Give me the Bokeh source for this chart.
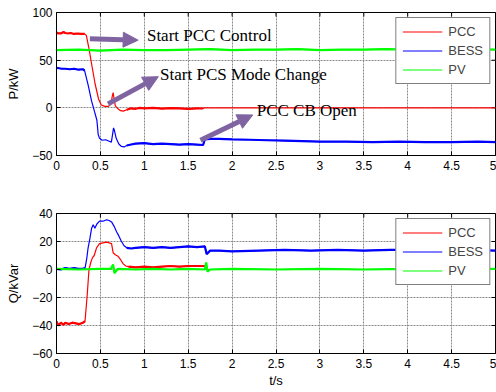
import numpy as np
from bokeh.plotting import figure
from bokeh.layouts import column
from bokeh.models import (Range1d, FixedTicker, NumeralTickFormatter, Legend, LegendItem,
                          Arrow, NormalHead, Label)
from bokeh.embed import file_html
from bokeh.resources import INLINE

# ---------------- data ----------------
x_ticks = [0, 0.5, 1, 1.5, 2, 2.5, 3, 3.5, 4, 4.5, 5]
p_ticks = [-50, 0, 50, 100]
q_ticks = [-60, -40, -20, 0, 20, 40]
series_names = ["PCC", "BESS", "PV"]

# Active power P (kW)
t_p_pcc = [0, 0.02, 0.05, 0.08, 0.1, 0.13, 0.16, 0.2, 0.24, 0.28, 0.32, 0.34, 0.37, 0.40,
           0.44, 0.48, 0.51, 0.55, 0.59, 0.62, 0.635, 0.645, 0.655, 0.67, 0.7, 0.73, 0.76,
           0.8, 0.85, 0.9, 0.95, 1.0, 1.1, 1.2, 1.3, 1.4, 1.5, 1.6, 1.67, 1.68, 2.5, 3.5, 5.0]
p_pcc = [79, 78, 78, 79.5, 78.5, 78, 78.5, 77.5, 78, 77.5, 77.5, 76, 62, 46,
         25, 9, 3, 1.5, 1.5, 4, 12, 16, 10, 2, -1, -3, -3.5,
         -2, -0.5, -1, 0, -0.5, 0, -0.8, -0.3, -0.5, -1, -0.5, -0.7, 0, 0, 0, 0]

t_p_bess = [0, 0.03, 0.06, 0.1, 0.15, 0.2, 0.25, 0.3, 0.32, 0.36, 0.40, 0.43, 0.46, 0.475,
            0.49, 0.52, 0.56, 0.6, 0.625, 0.64, 0.65, 0.66, 0.68, 0.71, 0.74, 0.77, 0.8,
            0.85, 0.9, 1.0, 1.1, 1.2, 1.3, 1.4, 1.5, 1.6, 1.67, 1.69, 1.75, 1.85, 2.0,
            2.2, 2.4, 2.6, 2.8, 3.0, 3.3, 3.6, 3.9, 4.2, 4.5, 4.8, 5.0]
p_bess = [42, 41.5, 41, 41, 40.5, 41, 40, 40.5, 39, 24, 7, -3, -13, -28,
          -32, -34, -33.5, -35, -36, -27, -21, -24, -32, -38, -40.5, -41, -39.5,
          -38.5, -37.5, -37, -38, -37.5, -38, -38.5, -38, -38.5, -39, -33, -32.5, -32.5, -33,
          -33.5, -34, -34.5, -35, -35.5, -35.5, -36, -35.5, -36, -36, -35.5, -36]

t_p_pv = [0, 0.25, 0.5, 0.75, 1.0, 1.25, 1.5, 1.75, 2.0, 2.25, 2.5, 2.75, 3.0, 3.25,
          3.5, 3.75, 4.0, 4.25, 4.5, 4.75, 5.0]
p_pv = [60.5, 61, 60, 61, 60.5, 60.5, 61, 61.5, 60.5, 61, 61, 61.5, 60.5, 61,
        61, 61.5, 61, 60.5, 61, 61.5, 61]

# Reactive power Q (kVar)
t_q_pcc = [0, 0.02, 0.05, 0.08, 0.1, 0.14, 0.18, 0.22, 0.26, 0.3, 0.325, 0.35, 0.37, 0.39,
           0.41, 0.43, 0.456, 0.49, 0.53, 0.57, 0.6, 0.627, 0.645, 0.67, 0.7, 0.73, 0.76,
           0.79, 0.82, 0.9, 1.0, 1.1, 1.2, 1.3, 1.4, 1.5, 1.6, 1.69, 1.7, 5.0]
q_pcc = [-37, -40, -38, -39.5, -38, -39, -38, -38.5, -39, -38, -37, -18, 0, 5,
         8.5, 10, 15.5, 18.5, 19, 19.5, 19, 18.5, 12, 10.5, 9.5, 7, 4,
         2.5, 2, 1.5, 2, 1.5, 2, 2.5, 2, 2.5, 2.5, 2.5, 0, 0]

t_q_bess = [0, 0.05, 0.1, 0.15, 0.2, 0.25, 0.3, 0.325, 0.345, 0.36, 0.38, 0.4, 0.418, 0.437,
            0.46, 0.49, 0.53, 0.57, 0.6, 0.627, 0.655, 0.684, 0.71, 0.74, 0.77, 0.8, 0.85,
            0.9, 1.0, 1.1, 1.2, 1.3, 1.4, 1.5, 1.6, 1.69, 1.71, 1.75, 1.85, 2.0, 2.3, 2.6,
            2.9, 3.2, 3.5, 3.8, 4.1, 4.4, 4.7, 5.0]
q_bess = [0.5, 0, 1, 0.5, 1, 0.5, 0.5, 1, 8, 15.5, 22, 29.5, 32, 29.5,
          32.5, 34.5, 34.5, 35.5, 35, 34, 31, 27, 24, 20, 17, 15.5, 15,
          15.5, 16, 15.5, 16, 15.5, 16, 16.5, 16, 16.5, 11, 13.5, 13.5, 13, 13.5, 14,
          13.5, 14, 13.5, 14, 14, 13.5, 14, 13.5]

t_q_pv = [0, 0.25, 0.5, 0.62, 0.645, 0.66, 0.7, 0.9, 1.1, 1.3, 1.5, 1.69, 1.705, 1.72,
          1.75, 2.0, 2.5, 3.0, 3.5, 4.0, 4.5, 5.0]
q_pv = [0.5, 0, 0.5, 0.5, 3.5, -2.5, 0.5, 0, 0.5, 0, 0.5, 0, 5, -1.5,
        0, 0.5, 0, 0.5, 0, 0.5, 0, 0.5]

# annotations
annotations = [
    ("Start PCC Control", (0.38, 72.5), (0.93, 71.0), (1.03, 75.5)),
    ("Start PCS Mode Change", (0.587, 4.2), (1.16, 32.7), (1.18, 35.3)),
    ("PCC CB Open", (1.64, -34.1), (2.235, -7.5), (2.28, -2.8)),
]

# ---------------- styling ----------------
RED, BLUE, GREEN = "#ff0000", "#0000ff", "#00ff00"
PURPLE = "#8064a2"
SANS = "Liberation Sans"
SERIF = "Liberation Serif"


def box_ticks(p, yticks, yr):
    # MATLAB-style tick marks on the top and right edges (clipped to the frame)
    p.rect(x=x_ticks, y=[yr[1]] * len(x_ticks), width=1, height=8,
           width_units="screen", height_units="screen",
           fill_color="black", line_color=None)
    p.rect(x=[5] * len(yticks), y=yticks, width=8, height=1,
           width_units="screen", height_units="screen",
           fill_color="black", line_color=None)


def make_fig(height, yr, yticks, ylabel, border_top, border_bottom, xlabel=None):
    p = figure(width=496, height=height, output_backend="svg", toolbar_location=None,
               x_range=Range1d(0, 5), y_range=Range1d(*yr),
               min_border_left=56, min_border_right=1,
               min_border_top=border_top, min_border_bottom=border_bottom)
    p.background_fill_color = "white"
    p.border_fill_color = "white"
    p.outline_line_color = "black"
    p.outline_line_width = 1
    p.xaxis.ticker = FixedTicker(ticks=x_ticks)
    p.xaxis.formatter = NumeralTickFormatter(format="0.[0]")
    p.yaxis.ticker = FixedTicker(ticks=yticks)
    for ax in (p.xaxis, p.yaxis):
        ax.major_tick_in = 4
        ax.major_tick_out = 0
        ax.minor_tick_line_color = None
        ax.axis_line_color = "black"
        ax.major_tick_line_color = "black"
        ax.major_label_text_font = SANS
        ax.major_label_text_font_size = "12px"
        ax.major_label_text_color = "black"
        ax.axis_label_text_font = SANS
        ax.axis_label_text_font_size = "13px"
        ax.axis_label_text_font_style = "normal"
        ax.axis_label_text_color = "black"
    p.xaxis.major_label_standoff = 5
    p.yaxis.major_label_standoff = 4
    p.yaxis.axis_label = ylabel
    p.yaxis.axis_label_standoff = 8
    if xlabel:
        p.xaxis.axis_label = xlabel
        p.xaxis.axis_label_standoff = 2
    p.grid.grid_line_color = "#8a8a8a"
    p.grid.grid_line_dash = "2 1"
    p.grid.grid_line_width = 1
    p.xgrid.ticker = FixedTicker(ticks=x_ticks)
    p.ygrid.ticker = FixedTicker(ticks=yticks)
    box_ticks(p, yticks, yr)
    return p


def draw(p, t, y, color, windows, thin=1.2, thick=2.2):
    t = np.asarray(t, dtype=float)
    y = np.asarray(y, dtype=float)
    r = p.line(t, y, line_color=color, line_width=thin)
    for a, b in windows:
        m = (t >= a) & (t <= b)
        p.line(t[m], y[m], line_color=color, line_width=thick)
    return r


def add_legend(p, renderers):
    items = [LegendItem(label=n, renderers=[r]) for n, r in zip(series_names, renderers)]
    lg = Legend(items=items, location="top_right", margin=5, padding=6, spacing=4,
                glyph_width=40, glyph_height=15, label_height=15, label_standoff=6,
                label_text_font=SANS, label_text_font_size="13px",
                border_line_color="black", border_line_width=1,
                background_fill_color="white", background_fill_alpha=1.0)
    p.add_layout(lg)


# ---------------- top: P ----------------
p1 = make_fig(198, (-50, 100), p_ticks, "P/kW", 12, 43)
r1 = draw(p1, t_p_pcc, p_pcc, RED, [(0, 0.32), (0.8, 1.67)])
r2 = draw(p1, t_p_bess, p_bess, BLUE, [(0, 0.32), (0.78, 5)])
r3 = draw(p1, t_p_pv, p_pv, GREEN, [(0, 5)])
add_legend(p1, [r1, r2, r3])

for text, (xs, ys), (xe, ye), (xt, yt) in annotations:
    p1.add_layout(Arrow(x_start=xs, y_start=ys, x_end=xe, y_end=ye, line_color=PURPLE,
                        line_width=5,
                        end=NormalHead(size=15, fill_color=PURPLE, line_color=PURPLE,
                                       line_width=1)))
    p1.add_layout(Label(x=xt, y=yt, text=text, text_font=SERIF, text_font_size="17px",
                        text_baseline="middle", text_align="left", text_color="black"))

# ---------------- bottom: Q ----------------
p2 = make_fig(192, (-60, 40), q_ticks, "Q/kVar", 15, 36, xlabel="t/s")
s1 = draw(p2, t_q_pcc, q_pcc, RED, [(0, 0.33), (0.82, 1.69)])
s2 = draw(p2, t_q_bess, q_bess, BLUE, [(0, 0.325), (0.8, 5)])
s3 = draw(p2, t_q_pv, q_pv, GREEN, [(0, 5)])
add_legend(p2, [s1, s2, s3])

layout = column(p1, p2, spacing=0)
open("out.html", "w").write(file_html(layout, INLINE))
